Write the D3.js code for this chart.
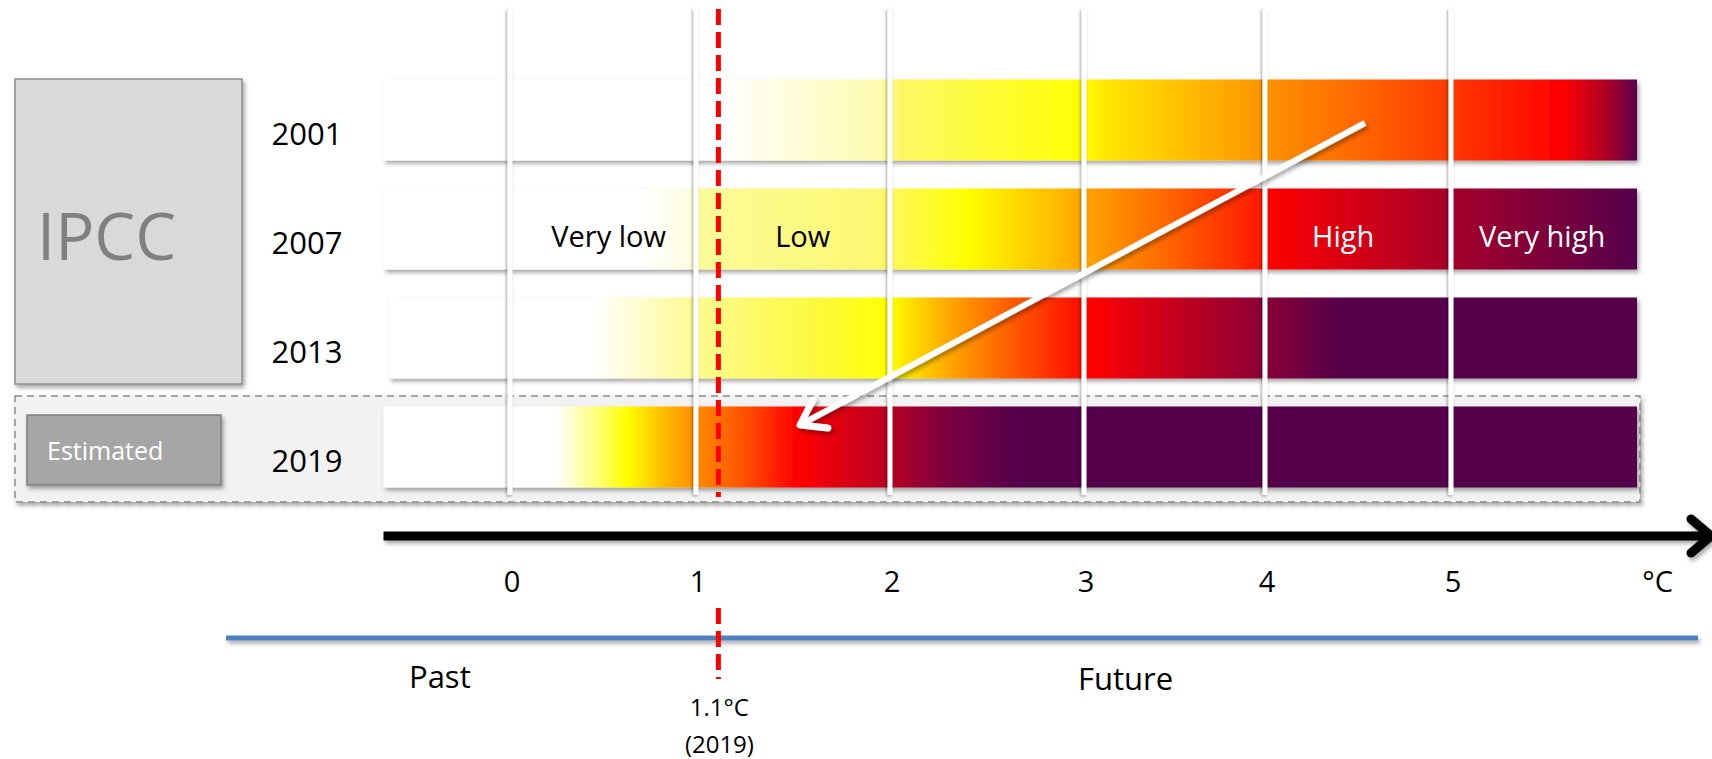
<!DOCTYPE html>
<html>
<head>
<meta charset="utf-8">
<script src="https://cdn.jsdelivr.net/npm/d3@7"></script>
<style>
  body { margin: 0; background: #fff; }
  svg { display: block; font-family: "Open Sans", Lato, sans-serif; }
</style>
</head>
<body>
<div id="chart"></div>
<script>
// rows and axis labels
var years = ["2001", "2007", "2013", "2019"];
var degrees = [0, 1, 2, 3, 4, 5];
var tickValues = [0, 1, 2, 3, 4, 5, 6.1];
var tickLabels = ["0", "1", "2", "3", "4", "5", "°C"];
var riskLevels = ["Very low", "Low", "High", "Very high"];
var riskLevelAt = [0.53, 1.55, 4.42, 5.49];
var riskLevelColor = ["#000", "#000", "#fff", "#fff"];
var currentWarming = 1.1;
var barStart = [-0.68, -0.68, -0.65, -0.68];
var barEnd = [6.0, 6.0, 6.0, 6.0];

// colour stops along each bar: [°C, colour]
var stops2001 = [[-0.68, "#ffffff"], [1.12, "#ffffff"], [1.95, "#fdfbae"], [2.05, "#fcf866"],
  [3.0, "#ffff00"], [3.1, "#ffe900"], [4.0, "#ff9300"], [5.0, "#ff3a00"], [5.6, "#ff0000"],
  [5.85, "#a8002a"], [6.0, "#5a004b"]];
var stops2007 = [[-0.68, "#ffffff"], [0.7, "#ffffff"], [0.98, "#fefde0"], [1.02, "#fdfb98"],
  [1.95, "#fcf870"], [2.05, "#fdf950"], [2.4, "#ffff00"], [3.0, "#ffa500"], [3.5, "#ff6000"],
  [3.98, "#ff1800"], [4.02, "#ff0000"], [5.0, "#a5002a"], [6.0, "#55004b"]];
var stops2013 = [[-0.65, "#ffffff"], [0.45, "#ffffff"], [1.0, "#fdfb90"], [1.6, "#fcf940"],
  [2.0, "#ffff00"], [2.3, "#ffa800"], [2.65, "#ff5500"], [3.05, "#ff0000"], [3.5, "#c5001e"],
  [4.0, "#8a0035"], [4.4, "#56004b"], [6.0, "#56004b"]];
var stops2019 = [[-0.68, "#ffffff"], [0.25, "#ffffff"], [0.48, "#ffff70"], [0.63, "#ffff00"],
  [0.85, "#ffb400"], [1.0, "#ff8c00"], [1.25, "#ff5000"], [1.52, "#ff0000"], [1.95, "#c00020"],
  [2.3, "#7a003f"], [2.65, "#56004b"], [6.0, "#56004b"]];
var barStops = [stops2001, stops2007, stops2013, stops2019];

var width = 1712, height = 759;

// the degree marks are not evenly spaced in the original slide
var x = d3.scaleLinear().domain(degrees).range([510, 696, 890, 1084, 1265, 1451]);
var y = d3.scalePoint().domain(years).range([120, 447]);
var barH = 81;

var svg = d3.select("#chart").append("svg")
  .attr("width", width)
  .attr("height", height);

var defs = svg.append("defs");

// shadows in user space so flat lines keep their filter region
function addShadow(id, dx, dy, blur, opacity) {
  defs.append("filter").attr("id", id)
    .attr("filterUnits", "userSpaceOnUse")
    .attr("x", 0).attr("y", 0).attr("width", width).attr("height", height)
    .append("feDropShadow")
    .attr("dx", dx).attr("dy", dy).attr("stdDeviation", blur)
    .attr("flood-color", "#000").attr("flood-opacity", opacity);
}
addShadow("shadow", 2, 3, 2, 0.35);
addShadow("lineShadow", -1, 1, 1.5, 0.4);

years.forEach(function(yr, i) {
  var x1 = x(barStart[i]), x2 = x(barEnd[i]);
  var g = defs.append("linearGradient")
    .attr("id", "grad" + yr)
    .attr("gradientUnits", "userSpaceOnUse")
    .attr("x1", x1).attr("x2", x2).attr("y1", 0).attr("y2", 0);
  g.selectAll("stop")
    .data(barStops[i])
    .enter()
    .append("stop")
    .attr("offset", function(d) { return (x(d[0]) - x1) / (x2 - x1); })
    .attr("stop-color", function(d) { return d[1]; });
});

// IPCC box
svg.append("rect")
  .attr("x", 15).attr("y", 79).attr("width", 227).attr("height", 305)
  .attr("fill", "#d9d9d9").attr("stroke", "#8c8c8c").attr("stroke-width", 1.5)
  .attr("filter", "url(#shadow)");
svg.append("text")
  .attr("x", 37).attr("y", 260)
  .style("font-size", "65px").attr("fill", "#808080")
  .text("IPCC");

// estimated zone
svg.append("rect")
  .attr("x", 15).attr("y", 396).attr("width", 1625).attr("height", 106)
  .attr("fill", "#f2f2f2").attr("stroke", "#8c8c8c").attr("stroke-width", 1.5)
  .attr("stroke-dasharray", "7,5")
  .attr("filter", "url(#shadow)");
svg.append("rect")
  .attr("x", 27).attr("y", 415).attr("width", 194).attr("height", 70)
  .attr("fill", "#a6a6a6").attr("stroke", "#7f7f7f").attr("stroke-width", 1.5)
  .attr("filter", "url(#shadow)");
svg.append("text")
  .attr("x", 47).attr("y", 460)
  .style("font-size", "25px").attr("fill", "#fff")
  .text("Estimated");

// bars
svg.selectAll(".bar")
  .data(years)
  .enter()
  .append("rect")
  .attr("class", "bar")
  .attr("x", function(d, i) { return x(barStart[i]); })
  .attr("y", function(d) { return y(d) - barH / 2; })
  .attr("width", function(d, i) { return x(barEnd[i]) - x(barStart[i]); })
  .attr("height", barH)
  .attr("fill", function(d) { return "url(#grad" + d + ")"; })
  .attr("filter", "url(#shadow)");

// year labels
svg.selectAll(".year")
  .data(years)
  .enter()
  .append("text")
  .attr("class", "year")
  .attr("x", 307)
  .attr("y", function(d) { return y(d) + 25; })
  .attr("text-anchor", "middle")
  .style("font-size", "31px")
  .text(function(d) { return d; });

// white grid lines at each degree
svg.selectAll(".grid")
  .data(degrees)
  .enter()
  .append("line")
  .attr("class", "grid")
  .attr("x1", function(d) { return x(d); })
  .attr("x2", function(d) { return x(d); })
  .attr("y1", 9).attr("y2", 495)
  .attr("stroke", "#fff").attr("stroke-width", 5)
  .attr("filter", "url(#lineShadow)");

// risk level labels
svg.selectAll(".risk")
  .data(riskLevels)
  .enter()
  .append("text")
  .attr("class", "risk")
  .attr("x", function(d, i) { return x(riskLevelAt[i]); })
  .attr("y", y("2007") + 18)
  .attr("text-anchor", "middle")
  .style("font-size", "29px")
  .attr("fill", function(d, i) { return riskLevelColor[i]; })
  .text(function(d) { return d; });

// current warming line
svg.append("line")
  .attr("x1", x(currentWarming) + 3).attr("x2", x(currentWarming) + 3)
  .attr("y1", 9).attr("y2", 497)
  .attr("stroke", "#ff0000").attr("stroke-width", 5)
  .attr("stroke-dasharray", "16,7");

// white arrow
var arrowFrom = [1365, 123], arrowTo = [800, 425];
var ang = Math.atan2(arrowTo[1] - arrowFrom[1], arrowTo[0] - arrowFrom[0]);
var headLen = 28, headAng = 0.6;
var arrowG = svg.append("g").attr("filter", "url(#shadow)");
arrowG.append("line")
  .attr("x1", arrowFrom[0]).attr("y1", arrowFrom[1])
  .attr("x2", arrowTo[0]).attr("y2", arrowTo[1])
  .attr("stroke", "#fff").attr("stroke-width", 6);
arrowG.append("path")
  .attr("d", d3.line()([
    [arrowTo[0] - headLen * Math.cos(ang - headAng), arrowTo[1] - headLen * Math.sin(ang - headAng)],
    arrowTo,
    [arrowTo[0] - headLen * Math.cos(ang + headAng), arrowTo[1] - headLen * Math.sin(ang + headAng)]
  ]))
  .attr("fill", "none").attr("stroke", "#fff").attr("stroke-width", 7)
  .attr("stroke-linecap", "round").attr("stroke-linejoin", "round");

// temperature axis arrow
var axisG = svg.append("g").attr("filter", "url(#shadow)");
axisG.append("line")
  .attr("x1", x(barStart[0])).attr("x2", 1708)
  .attr("y1", 536).attr("y2", 536)
  .attr("stroke", "#000").attr("stroke-width", 9);
axisG.append("path")
  .attr("d", d3.line()([[1691, 519], [1711, 536], [1691, 553]]))
  .attr("fill", "none").attr("stroke", "#000").attr("stroke-width", 9)
  .attr("stroke-linecap", "round").attr("stroke-linejoin", "round");

svg.selectAll(".tick")
  .data(tickLabels)
  .enter()
  .append("text")
  .attr("class", "tick")
  .attr("x", function(d, i) { return x(tickValues[i]) + 2; })
  .attr("y", 592)
  .attr("text-anchor", "middle")
  .style("font-size", "29px")
  .text(function(d) { return d; });

// timeline
svg.append("line")
  .attr("x1", 226).attr("x2", 1698)
  .attr("y1", 638).attr("y2", 638)
  .attr("stroke", "#4f81bd").attr("stroke-width", 5)
  .attr("filter", "url(#shadow)");
svg.append("line")
  .attr("x1", x(currentWarming) + 3).attr("x2", x(currentWarming) + 3)
  .attr("y1", 608).attr("y2", 679)
  .attr("stroke", "#ff0000").attr("stroke-width", 5)
  .attr("stroke-dasharray", "16,7");

svg.append("text")
  .attr("x", 409).attr("y", 688)
  .style("font-size", "31px")
  .text("Past");
svg.append("text")
  .attr("x", 1078).attr("y", 690)
  .style("font-size", "31px")
  .text("Future");
svg.append("text")
  .attr("x", x(currentWarming) + 4).attr("y", 716)
  .attr("text-anchor", "middle")
  .style("font-size", "24px")
  .text("1.1°C");
svg.append("text")
  .attr("x", x(currentWarming) + 4).attr("y", 753)
  .attr("text-anchor", "middle")
  .style("font-size", "24px")
  .text("(2019)");
</script>
</body>
</html>
